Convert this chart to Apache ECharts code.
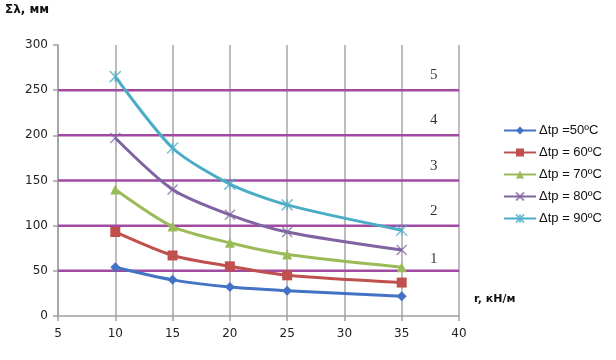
<!DOCTYPE html>
<html>
<head>
<meta charset="utf-8">
<script src="https://cdn.jsdelivr.net/npm/echarts@6/dist/echarts.min.js"></script>
<style>html,body{margin:0;padding:0;background:#fff}#c{width:616px;height:360px}</style>
</head>
<body>
<div id="c"></div>
<script>
const xValues = [10, 15, 20, 25, 35];
const seriesNames = ['Δtp =50ºC', 'Δtp = 60ºC', 'Δtp = 70ºC', 'Δtp = 80ºC', 'Δtp = 90ºC'];
const s50 = [54, 40, 32, 28, 22];
const s60 = [93, 67, 55, 45, 37];
const s70 = [140, 99, 81, 68, 54];
const s80 = [197, 140, 112, 93, 73];
const s90 = [265, 186, 146, 123, 95];
const levels = [50, 100, 150, 200, 250];
const levelLabels = ['1', '2', '3', '4', '5'];
const levelLabelY = [63, 116, 166, 217, 267];
const levelLabelX = 37.8;
const xTicks = [5, 10, 15, 20, 25, 30, 35, 40];
const yTicks = [0, 50, 100, 150, 200, 250, 300];

const colors = ['#4472C4', '#C0504D', '#9BBB59', '#8064A2', '#4BACC6'];
const allData = [s50, s60, s70, s80, s90];
const xPath = 'path://M0,0L10,10M10,0L0,10';
const starPath = 'path://M0,0L10,10M10,0L0,10M5,0L5,10';
const symbols = ['diamond', 'rect', 'triangle', xPath, starPath];
const symbolSizes = [10, 10, 10, 10, 11];

const series = [];
levels.forEach(function (v) {
  series.push({
    type: 'line', silent: true, symbol: 'none', z: 1,
    data: [[xTicks[0], v], [xTicks[xTicks.length - 1], v]],
    lineStyle: { color: '#A04AA2', width: 2.5 }
  });
});
allData.forEach(function (d, i) {
  const isPath = i >= 3;
  series.push({
    name: seriesNames[i], type: 'line', smooth: 0.26, z: 3,
    data: d.map(function (y, j) { return [xValues[j], y]; }),
    symbol: symbols[i], symbolSize: symbolSizes[i],
    lineStyle: { color: colors[i], width: 3 },
    itemStyle: isPath ? { color: colors[i], borderColor: colors[i], borderWidth: 1.5, opacity: 0.75 } : { color: colors[i] }
  });
});
series.push({
  type: 'scatter', silent: true, symbolSize: 0, z: 4,
  data: levelLabels.map(function (t, i) { return { value: [levelLabelX, levelLabelY[i]], name: t }; }),
  label: { show: true, position: 'inside', formatter: '{b}', fontFamily: 'Liberation Serif', fontSize: 15, color: '#000' }
});

const chart = echarts.init(document.getElementById('c'), null, { renderer: 'canvas' });
chart.setOption({
  animation: false,
  backgroundColor: '#fff',
  color: colors,
  grid: { left: 58, right: 157, top: 45, bottom: 44, containLabel: false },
  xAxis: {
    type: 'value', min: 5, max: 40, interval: 5,
    axisLine: { show: true, lineStyle: { color: '#A0A0A0', width: 1.5 } },
    axisTick: { show: true, length: 5, lineStyle: { color: '#A0A0A0', width: 1.5 } },
    splitLine: { show: true, lineStyle: { color: '#A6A6A6', width: 1.5 } },
    axisLabel: { fontFamily: 'DejaVu Sans', fontSize: 12, color: '#222', margin: 12 }
  },
  yAxis: {
    type: 'value', min: 0, max: 300, interval: 50,
    axisLine: { show: true, lineStyle: { color: '#A0A0A0', width: 1.5 } },
    axisTick: { show: true, length: 5, lineStyle: { color: '#A0A0A0', width: 1.5 } },
    splitLine: { show: false },
    axisLabel: { fontFamily: 'DejaVu Sans', fontSize: 12, color: '#222', margin: 10 }
  },
  legend: {
    data: seriesNames, orient: 'vertical', left: 498, top: 119, itemGap: 9,
    itemWidth: 32, itemHeight: 10,
    textStyle: { fontFamily: 'Liberation Sans', fontSize: 13, color: '#111', padding: [0, 0, 0, -2] }
  },
  graphic: [
    { type: 'text', left: 5, top: 4, style: { text: 'Σλ, мм', fontFamily: 'DejaVu Sans', fontWeight: 'bold', fontSize: 12, fill: '#111' } },
    { type: 'text', left: 474, top: 294, style: { text: 'r, кН/м', fontFamily: 'DejaVu Sans', fontWeight: 'bold', fontSize: 11, fill: '#111' } }
  ],
  series: series
});
</script>
</body>
</html>
